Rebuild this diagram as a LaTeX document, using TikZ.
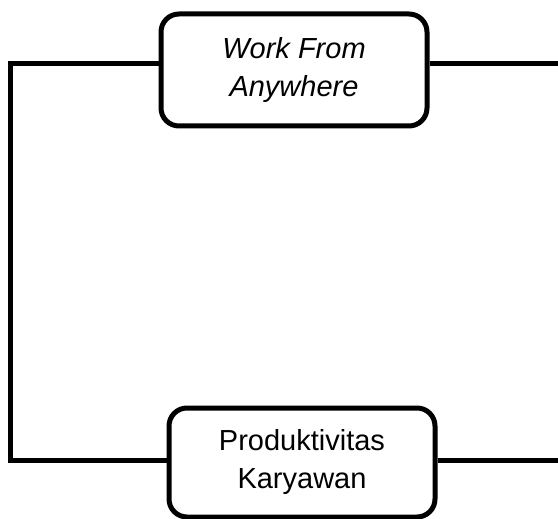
\documentclass[tikz,border=0pt]{standalone}
\usepackage{fontspec}
\setmainfont{Liberation Sans}
\usetikzlibrary{positioning}
\tikzset{varbox/.style = {draw, rounded corners = 18, line width = 5,
                          minimum width = 266, minimum height = 112,
                          inner sep = 0, align = center,
                          font = \fontsize{29}{38}\selectfont}}
\tikzset{link/.style = {line width = 5}}

\begin{document}
\begin{tikzpicture}[x=1pt, y=-1pt]
      \useasboundingbox (0, 0) rectangle (558, 519);

      \node [varbox, font = \fontsize{29}{38}\selectfont\itshape] (wfa) at (294, 70) {Work From\\Anywhere};
      \node [varbox, minimum height = 109] (pk) at (302, 462.5) {Produktivitas\\Karyawan};

      \coordinate (lt) at (10.5, 64);
      \coordinate (lb) at (10.5, 460);
      \coordinate (rt) at (558, 64);
      \coordinate (rb) at (558, 460);

      \draw [link] (wfa.west |- lt) -- (lt) -- (lb) -- (pk.west |- lb);
      \draw [link] (wfa.east |- rt) -- (rt);
      \draw [link] (pk.east |- rb) -- (rb);
    \end{tikzpicture}
\end{document}
